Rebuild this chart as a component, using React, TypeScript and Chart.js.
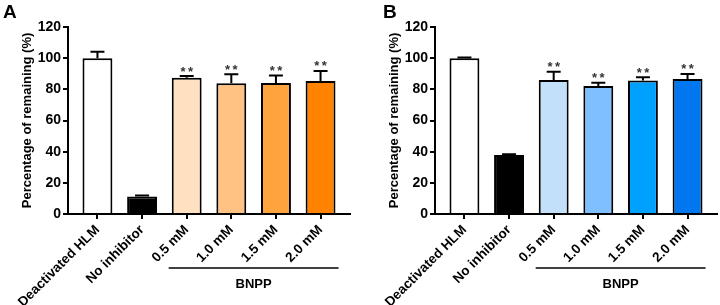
import React, { useEffect, useRef } from "react";
import { Chart, registerables } from "chart.js";

Chart.register(...registerables);

const categories = ["Deactivated HLM", "No inhibitor", "0.5 mM", "1.0 mM", "1.5 mM", "2.0 mM"];
const valuesA = [100, 11.3, 87.5, 83.9, 84.0, 85.4];
const errorsA = [4.1, 0.5, 1.0, 5.8, 4.8, 6.4];
const colorsA = ["#FFFFFF", "#000000", "#FFE1C2", "#FFC283", "#FFA33F", "#FF8300"];
const valuesB = [100, 37.8, 86.0, 82.2, 85.6, 86.6];
const errorsB = [0.5, 0.6, 5.3, 2.1, 2.1, 3.3];
const colorsB = ["#FFFFFF", "#000000", "#C2E0FA", "#7FBFFF", "#00A0FF", "#0077EE"];
const significance = ["", "", "**", "**", "**", "**"];
const yTicks = [0, 20, 40, 60, 80, 100, 120];
const groupLabel = "BNPP";
const groupFrom = 2;
const groupTo = 5;
const yTitle = "Percentage of remaining (%)";

const FONT = "'Liberation Sans', Arial, Helvetica, sans-serif";

type PanelProps = {
  letter: string;
  letterX: number;
  values: number[];
  errors: number[];
  colors: string[];
  left: number;
};

function Panel({ letter, letterX, values, errors, colors, left }: PanelProps) {
  const ref = useRef<HTMLCanvasElement>(null);
  useEffect(() => {
    const overlay = {
      id: "overlay",
      afterDatasetsDraw(chart: any) {
        const ctx = chart.ctx;
        const x = chart.scales.x;
        const y = chart.scales.y;
        const meta = chart.getDatasetMeta(0);
        ctx.save();
        ctx.strokeStyle = "#000";
        ctx.lineWidth = 2;
        values.forEach((v, i) => {
          const bar = meta.data[i];
          const bx = bar.x;
          const top = y.getPixelForValue(v);
          const cap = y.getPixelForValue(v + errors[i]);
          ctx.beginPath();
          ctx.moveTo(bx, top);
          ctx.lineTo(bx, cap);
          ctx.moveTo(bx - 7, cap);
          ctx.lineTo(bx + 7, cap);
          ctx.stroke();
          const mark = significance[i];
          if (mark) {
            ctx.fillStyle = "#333";
            ctx.font = `bold 13px ${FONT}`;
            ctx.textAlign = "center";
            ctx.textBaseline = "alphabetic";
            const n = mark.length;
            for (let k = 0; k < n; k++) {
              const off = (k - (n - 1) / 2) * 7.5;
              ctx.fillText("*", bx + off, cap - 0.5);
            }
          }
        });
        // group line and label
        const x1 = x.getPixelForValue(groupFrom) - 18;
        const x2 = x.getPixelForValue(groupTo) + 18;
        ctx.lineWidth = 1.6;
        ctx.beginPath();
        ctx.moveTo(x1, 268);
        ctx.lineTo(x2, 268);
        ctx.stroke();
        ctx.fillStyle = "#000";
        ctx.font = `bold 13px ${FONT}`;
        ctx.textAlign = "center";
        ctx.textBaseline = "middle";
        ctx.fillText(groupLabel, (x1 + x2) / 2, 284);
        // panel letter
        ctx.font = `bold 19px ${FONT}`;
        ctx.textAlign = "left";
        ctx.textBaseline = "alphabetic";
        ctx.fillText(letter, letterX, 18);
        ctx.restore();
      },
    };

    const chart = new Chart(ref.current as HTMLCanvasElement, {
      type: "bar",
      data: {
        datasets: [
          {
            data: values.map((v, i) => ({ x: i, y: v })),
            backgroundColor: colors,
            borderColor: "#000",
            borderWidth: 2,
            barPercentage: 0.67,
            categoryPercentage: 1,
          },
        ],
      },
      options: {
        responsive: false,
        animation: false,
        events: [],
        layout: { padding: { left: 12, top: 27, right: 10, bottom: 0 } },
        plugins: { legend: { display: false }, tooltip: { enabled: false } },
        scales: {
          x: {
            type: "linear",
            offset: false,
            min: -0.66,
            max: 5.66,
            afterBuildTicks: (scale: any) => {
              scale.ticks = categories.map((_, i) => ({ value: i }));
            },
            afterFit: (scale: any) => {
              scale.height = 91;
              scale.paddingRight = 0;
              scale.paddingLeft = 0;
            },
            grid: {
              offset: false,
              drawOnChartArea: false,
              drawTicks: true,
              tickLength: 5,
              color: "#000",
              lineWidth: 2,
            },
            border: { display: true, color: "#000", width: 2 },
            ticks: {
              autoSkip: false,
              maxRotation: 45,
              minRotation: 45,
              padding: 3,
              color: "#000",
              font: { family: FONT, size: 13.5, weight: "bold" },
              callback: (v: any) => categories[Math.round(Number(v))] ?? "",
            },
          },
          y: {
            min: 0,
            max: 120,
            afterBuildTicks: (scale: any) => {
              scale.ticks = yTicks.map((t) => ({ value: t }));
            },
            afterFit: (scale: any) => {
              scale.width = 56;
            },
            grid: {
              drawOnChartArea: false,
              drawTicks: true,
              tickLength: 5,
              color: "#000",
              lineWidth: 2,
            },
            border: { display: true, color: "#000", width: 2 },
            ticks: {
              padding: 2,
              color: "#000",
              font: { family: FONT, size: 14, weight: "bold" },
            },
            title: {
              display: true,
              text: yTitle,
              color: "#000",
              padding: { top: 8, bottom: 0 },
              font: { family: FONT, size: 13, weight: "bold" },
            },
          },
        },
      },
      plugins: [overlay],
    } as any);
    return () => chart.destroy();
  }, []);
  return (
    <canvas
      ref={ref}
      width={360}
      height={305}
      style={{ position: "absolute", left, top: 0, width: 360, height: 305 }}
    />
  );
}

export default function App() {
  return (
    <div
      style={{
        position: "fixed",
        left: 0,
        top: 0,
        width: 720,
        height: 305,
        overflow: "hidden",
        background: "#fff",
      }}
    >
      <Panel letter="A" letterX={3} values={valuesA} errors={errorsA} colors={colorsA} left={0} />
      <Panel letter="B" letterX={16} values={valuesB} errors={errorsB} colors={colorsB} left={367} />
    </div>
  );
}
